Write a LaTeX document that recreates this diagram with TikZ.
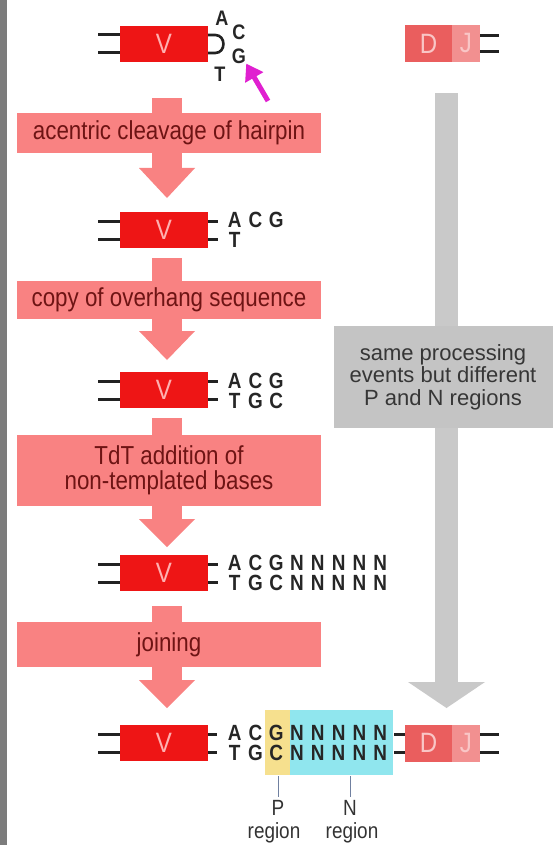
\documentclass[tikz,border=0pt]{standalone}
\usepackage{fontspec}
\setmainfont{Liberation Sans}
\newfontfamily\condf[FakeStretch=0.86]{Liberation Sans}
\newfontfamily\seqf[FakeStretch=0.86]{Liberation Sans}
\usetikzlibrary{arrows.meta}
\definecolor{vred}{HTML}{EE1515}
\definecolor{vtxt}{HTML}{FFB0B0}
\definecolor{steppink}{HTML}{F98282}
\definecolor{steptxt}{HTML}{6E1414}
\definecolor{dcol}{HTML}{EA5E5E}
\definecolor{jcol}{HTML}{F29090}
\definecolor{djtxt}{HTML}{F9C6C6}
\definecolor{grayarr}{HTML}{C9C9C9}
\definecolor{graybox}{HTML}{C4C4C4}
\definecolor{graytxt}{HTML}{363636}
\definecolor{magarr}{HTML}{E020D0}
\definecolor{pyel}{HTML}{F6E08E}
\definecolor{ncyan}{HTML}{90E6EE}
\definecolor{stripe}{HTML}{7C7C7C}
\definecolor{strandc}{HTML}{222222}
\definecolor{lblline}{HTML}{7080A0}
\newcommand\seqbox[1]{\makebox[20.8pt]{#1}}
\newcommand\pinkarrow[3]{%
  \fill[steppink] (152,#1) rectangle (182,#2+1);
  \fill[steppink] (139,#2) -- (195,#2) -- (167,#3) -- cycle;}
\begin{document}
\begin{tikzpicture}[x=1pt,y=-1pt,
  vbox/.style={fill=vred, minimum width=88pt, minimum height=36pt, inner sep=0pt,
    text=vtxt, font=\condf\fontsize{28}{28}\selectfont},
  dbox/.style={fill=dcol, minimum width=47pt, minimum height=37pt, inner sep=0pt,
    text=djtxt, font=\condf\fontsize{28}{28}\selectfont},
  jbox/.style={fill=jcol, minimum width=28pt, minimum height=37pt, inner sep=0pt,
    text=djtxt, font=\condf\fontsize{28}{28}\selectfont},
  stepbox/.style={fill=steppink, minimum width=304pt, inner sep=0pt, align=center,
    text=steptxt, font=\condf\fontsize{26}{25}\selectfont},
  strand/.style={draw=strandc, line width=3pt},
  seqtxt/.style={inner sep=0pt, anchor=west, font=\seqf\bfseries\fontsize{22}{22}\selectfont, text=black!85},
  hptxt/.style={inner sep=0pt, font=\seqf\bfseries\fontsize{21}{21}\selectfont, text=black!85},
  lbltxt/.style={inner sep=0pt, font=\condf\fontsize{22}{22}\selectfont, text=black!80},
]
\useasboundingbox (0,0) rectangle (559,845);
\fill[white] (0,0) rectangle (559,845);
\fill[stripe] (0,0) rectangle (7,845);

% ---------- gray arrow and box ----------
\fill[grayarr] (435,93) rectangle (458,684);
\fill[grayarr] (408,682) -- (485,682) -- (446.5,708) -- cycle;
\node[fill=graybox, minimum width=219pt, minimum height=102pt, inner sep=0pt,
  align=center, text=graytxt, font=\fontsize{22}{22.5}\selectfont]
  (same) at (443,377) {same processing\\events but different\\P and N regions};

% ---------- pink block arrows ----------
\pinkarrow{98}{168}{198}
\pinkarrow{258}{331}{360}
\pinkarrow{418}{519}{547}
\pinkarrow{606}{680}{708}

% ---------- step boxes ----------
\node[stepbox, minimum height=40pt] (s1) at (169,133) {acentric cleavage of hairpin};
\node[stepbox, minimum height=38pt] (s2) at (169,299.5) {copy of overhang sequence};
\node[stepbox, minimum height=71pt] (s3) at (169,470.5) {TdT addition of\\non-templated bases};
\node[stepbox, minimum height=45pt] (s4) at (169,644.5) {joining};

% ---------- row 1 ----------
\node[vbox] (v1) at (164,44) {V};
\draw[strand] ([yshift=9pt]v1.west) -- +(-22,0);
\draw[strand] ([yshift=-9pt]v1.west) -- +(-22,0);
\draw[strand, line width=2.6pt] ([yshift=9pt]v1.east) -- +(7,0)
  .. controls +(11,0) and +(11,0) .. ([yshift=-9pt,xshift=7pt]v1.east) -- ([yshift=-9pt]v1.east);
\node[hptxt] (h1a) at (222,18) {A};
\node[hptxt] (h1c) at (239,32) {C};
\node[hptxt] (h1g) at (239,56) {G};
\node[hptxt] (h1t) at (220,74) {T};
\coordinate (magtail) at (268,101);
\draw[magarr, line width=5pt, -{Triangle[length=16pt,width=20pt]}] (magtail) -- (h1g.south east);

\node[dbox] (d1) at (428.5,43.5) {D};
\node[jbox] (j1) at (466,43.5) {J};
\draw[strand] ([yshift=8pt]j1.east) -- +(19,0);
\draw[strand] ([yshift=-8pt]j1.east) -- +(19,0);

% ---------- row 2 ----------
\node[vbox] (v2) at (164,230) {V};
\draw[strand] ([yshift=9pt]v2.west) -- +(-22,0);
\draw[strand] ([yshift=-9pt]v2.west) -- +(-22,0);
\draw[strand] ([yshift=9pt]v2.east) -- +(10,0);
\draw[strand] ([yshift=-9pt]v2.east) -- +(10,0);
\node[seqtxt] (r2t) at (224,220) {\seqbox{A}\seqbox{C}\seqbox{G}};
\node[seqtxt] (r2b) at (224,240) {\seqbox{T}};

% ---------- row 3 ----------
\node[vbox] (v3) at (164,390) {V};
\draw[strand] ([yshift=9pt]v3.west) -- +(-22,0);
\draw[strand] ([yshift=-9pt]v3.west) -- +(-22,0);
\draw[strand] ([yshift=9pt]v3.east) -- +(10,0);
\draw[strand] ([yshift=-9pt]v3.east) -- +(10,0);
\node[seqtxt] (r3t) at (224,381) {\seqbox{A}\seqbox{C}\seqbox{G}};
\node[seqtxt] (r3b) at (224,401) {\seqbox{T}\seqbox{G}\seqbox{C}};

% ---------- row 4 ----------
\node[vbox] (v4) at (164,573) {V};
\draw[strand] ([yshift=9pt]v4.west) -- +(-22,0);
\draw[strand] ([yshift=-9pt]v4.west) -- +(-22,0);
\draw[strand] ([yshift=9pt]v4.east) -- +(10,0);
\draw[strand] ([yshift=-9pt]v4.east) -- +(10,0);
\node[seqtxt] (r4t) at (224,563) {\seqbox{A}\seqbox{C}\seqbox{G}\seqbox{N}\seqbox{N}\seqbox{N}\seqbox{N}\seqbox{N}};
\node[seqtxt] (r4b) at (224,583) {\seqbox{T}\seqbox{G}\seqbox{C}\seqbox{N}\seqbox{N}\seqbox{N}\seqbox{N}\seqbox{N}};

% ---------- row 5 ----------
\fill[pyel] (265,710) rectangle (290,775);
\fill[ncyan] (290,710) rectangle (393,775);
\node[vbox] (v5) at (164,743) {V};
\draw[strand] ([yshift=9pt]v5.west) -- +(-22,0);
\draw[strand] ([yshift=-9pt]v5.west) -- +(-22,0);
\draw[strand] ([yshift=9pt]v5.east) -- +(9,0);
\draw[strand] ([yshift=-9pt]v5.east) -- +(9,0);
\node[seqtxt] (r5t) at (224,733) {\seqbox{A}\seqbox{C}\seqbox{G}\seqbox{N}\seqbox{N}\seqbox{N}\seqbox{N}\seqbox{N}};
\node[seqtxt] (r5b) at (224,753) {\seqbox{T}\seqbox{G}\seqbox{C}\seqbox{N}\seqbox{N}\seqbox{N}\seqbox{N}\seqbox{N}};
\node[dbox] (d5) at (428.5,743) {D};
\node[jbox] (j5) at (466,743) {J};
\draw[strand] ([yshift=9pt]d5.west) -- +(-11,0);
\draw[strand] ([yshift=-9pt]d5.west) -- +(-11,0);
\draw[strand] ([yshift=9pt]j5.east) -- +(19,0);
\draw[strand] ([yshift=-9pt]j5.east) -- +(19,0);

% ---------- labels ----------
\coordinate (ptop) at (278,776);
\coordinate (ntop) at (350,776);
\node[lbltxt] (plab) at (278,808) {P};
\node[lbltxt, anchor=base] (preg) at (274,838) {region};
\node[lbltxt] (nlab) at (350,808) {N};
\node[lbltxt, anchor=base] (nreg) at (352,838) {region};
\draw[lblline, line width=1pt] (ptop) -- ([yshift=3pt]plab.north);
\draw[lblline, line width=1pt] (ntop) -- ([yshift=3pt]nlab.north);
\end{tikzpicture}
\end{document}
